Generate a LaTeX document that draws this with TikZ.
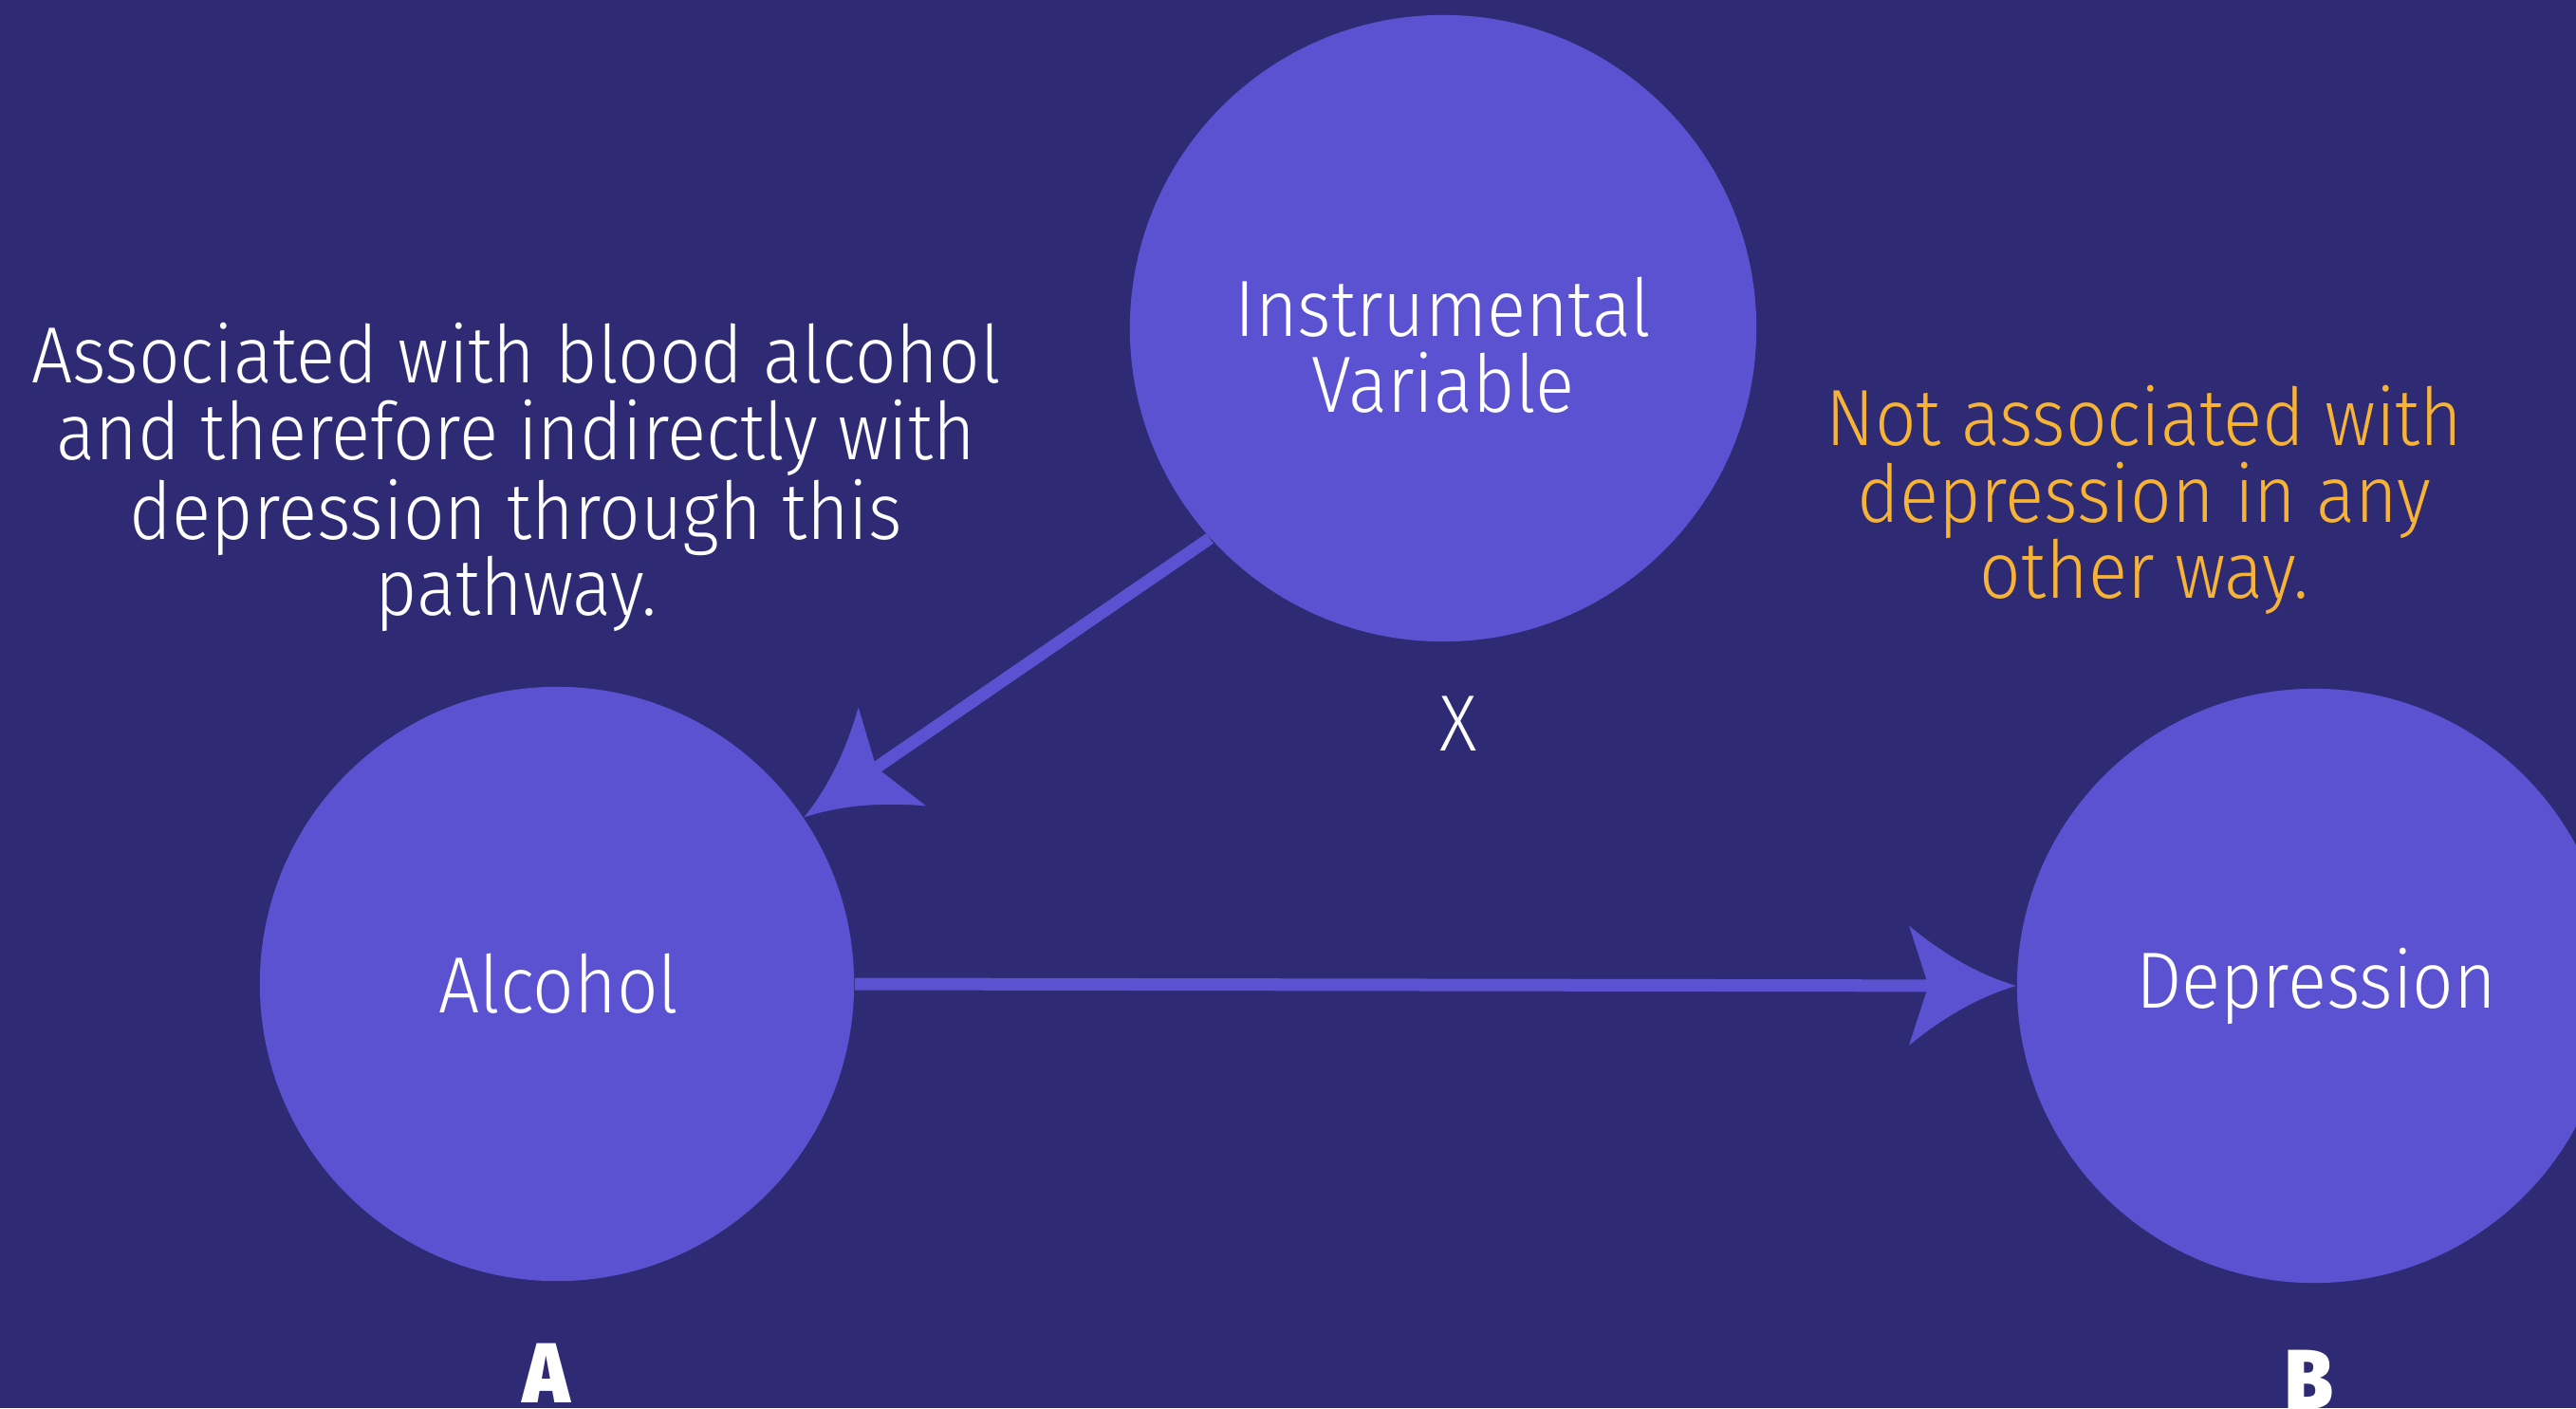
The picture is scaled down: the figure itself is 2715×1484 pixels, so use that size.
\documentclass[tikz,border=0pt]{standalone}
\usepackage{fontspec}
\setmainfont{Fira Sans Light}[FakeStretch=0.91, BoldFont={Fira Sans Black}]
\usetikzlibrary{arrows.meta}

\definecolor{bgnavy}{HTML}{2E2A73}
\definecolor{circfill}{HTML}{5A52D0}
\definecolor{amber}{HTML}{F7B336}

% arrow tip with hollowed flanks
\pgfdeclarearrow{
  name = Swoop,
  parameters = {\the\pgfarrowlength,\the\pgfarrowwidth},
  setup code = {
    \pgfarrowssettipend{0pt}
    \pgfarrowssetlineend{-0.75\pgfarrowlength}
    \pgfarrowssetbackend{-\pgfarrowlength}
    \pgfarrowssavethe\pgfarrowlength
    \pgfarrowssavethe\pgfarrowwidth
  },
  drawing code = {
    \pgfpathmoveto{\pgfpoint{0pt}{0pt}}
    \pgfpathquadraticcurveto{\pgfpoint{-0.5\pgfarrowlength}{0.13\pgfarrowwidth}}{\pgfpoint{-\pgfarrowlength}{0.5\pgfarrowwidth}}
    \pgfpathlineto{\pgfpoint{-0.82\pgfarrowlength}{0pt}}
    \pgfpathlineto{\pgfpoint{-\pgfarrowlength}{-0.5\pgfarrowwidth}}
    \pgfpathquadraticcurveto{\pgfpoint{-0.5\pgfarrowlength}{-0.13\pgfarrowwidth}}{\pgfpoint{0pt}{0pt}}
    \pgfpathclose
    \pgfusepathqfill
  },
  defaults = {length=1.13cm, width=1.26cm}
}

\begin{document}
\begin{tikzpicture}[x=0.01cm, y=-0.01cm,
    bubble/.style={circle, fill=circfill, inner sep=0pt},
    txt/.style={font=\fontsize{23.9pt}{22.8pt}\selectfont, text=white, align=center, inner sep=0pt},
    tag/.style={font=\fontsize{25.5pt}{26pt}\selectfont\bfseries, text=white, inner sep=0pt},
    link/.style={draw=circfill, line width=3.7pt, -{Swoop[length=1.13cm, width=1.26cm]}}]

    % canvas
    \useasboundingbox (0,0) rectangle (2715,1484);
    \fill[bgnavy] (0,0) rectangle (2715,1484);
    \clip (0,0) rectangle (2715,1484);

    % circles
    \node[bubble, minimum size=6.6cm] (iv) at (1521,346) {};
    \node[bubble, minimum size=6.26cm] (alc) at (587,1037) {};
    \node[bubble, minimum size=6.26cm] (dep) at (2439,1039) {};

    % labels inside circles
    \node[txt] (ivlbl) at (1521,364) {Instrumental\\Variable};
    \node[txt] (alclbl) at (589,1037) {Alcohol};
    \node[txt] (deplbl) at (2441,1039) {Depression};

    % arrows
    \draw[link] (iv.222.6) -- (alc.34.8);
    \draw[link] (alc.east) -- (dep.west);

    % side notes
    \node[txt] (note1) at (544,503)
        {Associated with blood alcohol\\and therefore indirectly with\\depression through this\\pathway.};
    \node[txt, text=amber] (note2) at (2260,527)
        {Not associated with\\depression in any\\other way.};
    \node[txt] (cross) at (1537,763) {X};

    % corner letters
    \node[tag] (tagA) at (576,1447) {A};
    \node[tag] (tagB) at (2434,1454) {B};

\end{tikzpicture}
\end{document}
